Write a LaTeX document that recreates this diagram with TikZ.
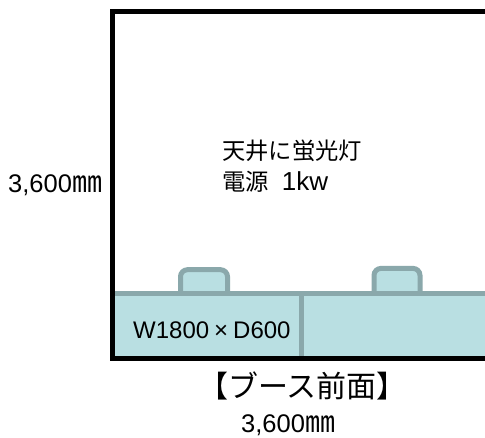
\documentclass[tikz,border=0pt]{standalone}
\usepackage{fontspec}
\setmainfont{Liberation Sans}
\newfontfamily\cjk{Noto Sans CJK JP}
\newcommand{\mmunit}{{\cjk\fontsize{30}{30}\selectfont ㎜}}
\tikzset{
  booth/.style={draw=black,line width=4.7pt,line join=miter},
  furn/.style={draw=furnline,fill=furnfill,line width=5pt},
  lab/.style={inner sep=0pt,anchor=base west,text=black}
}
\definecolor{furnline}{HTML}{8AA8AB}
\definecolor{furnfill}{HTML}{B9DFE2}
\begin{document}
\begin{tikzpicture}[x=1pt,y=-1pt]
\useasboundingbox (0,0) rectangle (485,438);
% back parts of counters
\draw[furn,rounded corners=7pt] (180.5,294) -- (180.5,269.7) -- (227.5,269.7) -- (227.5,294);
\draw[furn,rounded corners=7pt] (374,294) -- (374,268.4) -- (420,268.4) -- (420,294);
% counters
\fill[furnfill] (114,293) rectangle (485,358);
\draw[furn,fill=none] (114,293.4) -- (485,293.4);
\draw[furn,fill=none] (301,293.4) -- (301,358);
% booth walls
\draw[booth] (485,11.7) -- (112.5,11.7) -- (112.5,358.5) -- (485,358.5);
% texts
\node[lab,font=\fontsize{25.5}{30}\selectfont] (size) at (8,193) {3,600\mmunit};
\node[lab,font=\fontsize{23.3}{28}\selectfont\cjk] (light) at (222,160) {天井に蛍光灯};
\node[lab,font=\fontsize{26}{30}\selectfont] (power) at (222,191) {{\cjk\fontsize{23.3}{28}\selectfont 電源}\kern13pt 1kw};
\node[lab,font=\fontsize{24}{28}\selectfont] (dim) at (133,339) {W1800\kern5pt×\kern5pt D600};
\node[lab,font=\fontsize{30}{36}\selectfont\cjk] (front) at (198,398) {【ブース前面】};
\node[lab,font=\fontsize{25.5}{30}\selectfont] (width) at (241,433) {3,600\mmunit};
\end{tikzpicture}
\end{document}
